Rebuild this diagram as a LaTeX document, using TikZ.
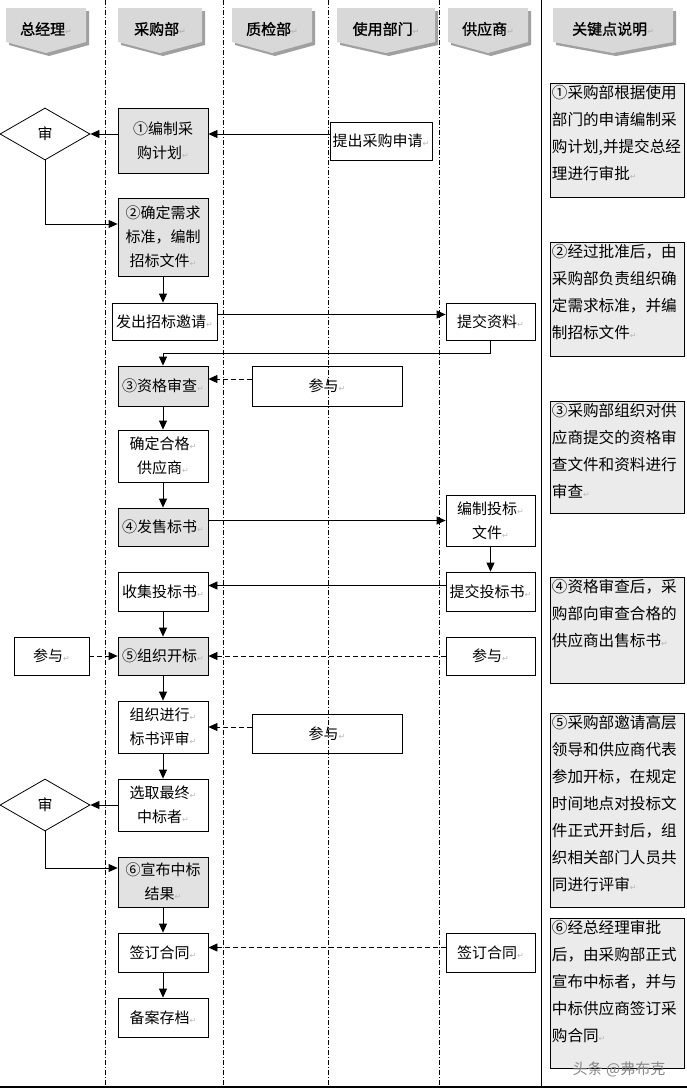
\documentclass[tikz,border=0pt]{standalone}
\usepackage{fontspec}
\setmainfont{Noto Sans CJK SC}[AutoFakeBold=1.2]
\newfontfamily\retfont{DejaVu Sans}
\usetikzlibrary{arrows.meta,shapes.geometric}
\definecolor{boxgray}{HTML}{E2E2E2}
\definecolor{notegray}{HTML}{EBEBEB}
\definecolor{headgray}{HTML}{D8D8D8}
\definecolor{shadegray}{HTML}{A0A0A0}
\newcommand\retmark{{\retfont\fontsize{8}{8}\selectfont\color{gray!55}↵}}
\newcommand\notetext[2]{\parbox[t][#1][t]{131pt}{\fontsize{15.6}{27}\selectfont #2}}
\tikzset{
  proc/.style={draw, line width=0.8pt, minimum width=90pt, inner sep=1pt, align=center, font=\fontsize{15}{24}\selectfont},
  keyproc/.style={proc, fill=boxgray},
  decide/.style={draw, diamond, minimum width=90pt, minimum height=52pt, inner sep=0pt, line width=0.8pt, font=\fontsize{15}{15}\selectfont},
  note/.style={draw, fill=notegray, line width=0.8pt, anchor=north west, inner sep=1.5pt},
  head/.style={font=\bfseries\fontsize{15}{15}\selectfont},
  flow/.style={line width=0.8pt, -{Triangle[length=9pt,width=8pt]}},
  helper/.style={flow, dash pattern=on 5pt off 3pt},
  lane/.style={line width=0.6pt, dash pattern=on 5pt off 2pt on 1pt off 2pt}
}
\begin{document}
\begin{tikzpicture}[x=1pt,y=-1pt]
  \useasboundingbox (0,0) rectangle (687,1090);
  % lanes
  \foreach \x in {105,223,328,439}
  \draw [lane] (\x,0) -- (\x,1087);
  \draw [line width=1pt] (541,0) -- (541,1087);
  \draw [line width=1.5pt] (0,1087) -- (687,1087);
  % headers
  \foreach \cx/\hw/\nm/\txt in {46/40/hzjl/总经理, 160/42/hcgb/采购部, 272/40/hzjb/质检部, 386/49/hsybm/使用部门, 488/40/hgys/供应商, 613/60/hgjd/关键点说明}{
    \fill [shadegray] (\cx-\hw+3,11) -- (\cx+\hw+3,11) -- (\cx+\hw+3,45) -- (\cx+3,56) -- (\cx-\hw+3,45) -- cycle;
    \fill [headgray] (\cx-\hw,8) -- (\cx+\hw,8) -- (\cx+\hw,42) -- (\cx,53) -- (\cx-\hw,42) -- cycle;
    \node [head] (\nm) at (\cx,29) {\txt\retmark};
  }
  % flow
  \node [decide] (d1) at (45,134) {审};
  \node [keyproc, minimum height=65pt] (b1) at (163,140.5) {①编制采\\购计划\retmark};
  \node [proc, minimum width=102pt, minimum height=38pt] (sq) at (381,141) {提出采购申请\retmark};
  \node [keyproc, minimum height=78pt] (b2) at (163,237) {②确定需求\\标准，编制\\招标文件\retmark};
  \node [proc, minimum width=105pt, minimum height=37pt] (fb) at (164.5,321.5) {发出招标邀请\retmark};
  \node [proc, minimum width=89pt, minimum height=37pt] (tj) at (490.5,321.5) {提交资料\retmark};
  \node [keyproc, minimum height=40pt] (b3) at (163,386) {③资格审查\retmark};
  \node [proc, minimum width=150pt, minimum height=40pt] (cy1) at (327,386) {参与\retmark};
  \node [proc, minimum height=52pt] (qd) at (163,456) {确定合格\retmark\\供应商\retmark};
  \node [keyproc, minimum height=38pt] (b4) at (163,527) {④发售标书\retmark};
  \node [proc, minimum width=89pt, minimum height=51pt] (bz) at (490.5,520.5) {编制投标\retmark\\文件\retmark};
  \node [proc, minimum height=39pt] (sj) at (163,591.5) {收集投标书\retmark};
  \node [proc, minimum width=89pt, minimum height=39pt] (tb) at (490.5,591.5) {提交投标书\retmark};
  \node [keyproc, minimum height=38pt] (b5) at (163,656) {⑤组织开标\retmark};
  \node [proc, minimum width=75pt, minimum height=38pt] (cy2) at (51.5,656) {参与\retmark};
  \node [proc, minimum width=89pt, minimum height=38pt] (cy3) at (490.5,656) {参与\retmark};
  \node [proc, minimum height=52pt] (ps) at (163,727) {组织进行\retmark\\标书评审\retmark};
  \node [proc, minimum width=150pt, minimum height=39pt] (cy4) at (327,733.5) {参与\retmark};
  \node [proc, minimum height=52pt] (xq) at (163,805) {选取最终\retmark\\中标者\retmark};
  \node [decide] (d2) at (45,805) {审};
  \node [keyproc, minimum height=50pt] (b6) at (163,882) {⑥宣布中标\\结果\retmark};
  \node [proc, minimum height=39pt] (qh) at (163,952.5) {签订合同\retmark};
  \node [proc, minimum width=89pt, minimum height=39pt] (qh2) at (490.5,952.5) {签订合同\retmark};
  \node [proc, minimum height=39pt] (ba) at (163,1017.5) {备案存档\retmark};
  \draw [flow] (sq.west |- d1.east) -- (b1.east |- d1.east);
  \draw [flow] (b1.west |- d1.east) -- (d1.east);
  \draw [flow] (d1.south) |- ([yshift=13pt]b2.west);
  \draw [flow] (b2.south) -- (b2.south |- fb.north);
  \draw [flow] ([yshift=7pt]fb.east) -- ([yshift=7pt]fb.east -| tj.west);
  \draw [flow] (tj.south) -- ++(0,13) -| (b3.north);
  \draw [helper] ([yshift=7pt]cy1.west) -- ([yshift=7pt]b3.east);
  \draw [flow] (b3) -- (qd);
  \draw [flow] (qd) -- (b4);
  \draw [flow] (b4.east |- bz.west) -- (bz.west);
  \draw [flow] (bz) -- (tb);
  \draw [flow] ([yshift=6pt]tb.west) -- ([yshift=6pt]sj.east);
  \draw [flow] (sj) -- (b5);
  \draw [helper] (cy2) -- (b5);
  \draw [helper] (cy3) -- (b5);
  \draw [flow] (b5) -- (ps);
  \draw [helper] (cy4.west |- ps.east) -- (ps.east);
  \draw [flow] (ps) -- (xq);
  \draw [flow] (xq) -- (d2);
  \draw [flow] (d2.south) |- ([yshift=14pt]b6.west);
  \draw [flow] (b6) -- (qh);
  \draw [helper] ([yshift=5pt]qh2.west) -- ([yshift=5pt]qh.east);
  \draw [flow] (qh) -- (ba);
  % key points
  \node [note] (k1) at (550,83) {\notetext{111pt}{①采购部根据使用\\部门的申请编制采\\购计划,并提交总经\\理进行审批\retmark}};
  \node [note] (k2) at (550,242) {\notetext{111pt}{②经过批准后，由\\采购部负责组织确\\定需求标准，并编\\制招标文件\retmark}};
  \node [note] (k3) at (550,401) {\notetext{109pt}{③采购部组织对供\\应商提交的资格审\\查文件和资料进行\\审查\retmark}};
  \node [note] (k4) at (550,577) {\notetext{103pt}{④资格审查后，采\\购部向审查合格的\\供应商出售标书\retmark}};
  \node [note] (k5) at (550,713) {\notetext{191pt}{⑤采购部邀请高层\\领导和供应商代表\\参加开标，在规定\\时间地点对投标文\\件正式开封后，组\\织相关部门人员共\\同进行评审\retmark}};
  \node [note] (k6) at (550,918) {\notetext{147pt}{⑥经总经理审批\\后，由采购部正式\\宣布中标者，并与\\中标供应商签订采\\购合同\retmark}};
  \node [font=\fontsize{15}{15}\selectfont, text=gray!95] (wm) at (619,1069) {头条 @弗布克};
\end{tikzpicture}
\end{document}
